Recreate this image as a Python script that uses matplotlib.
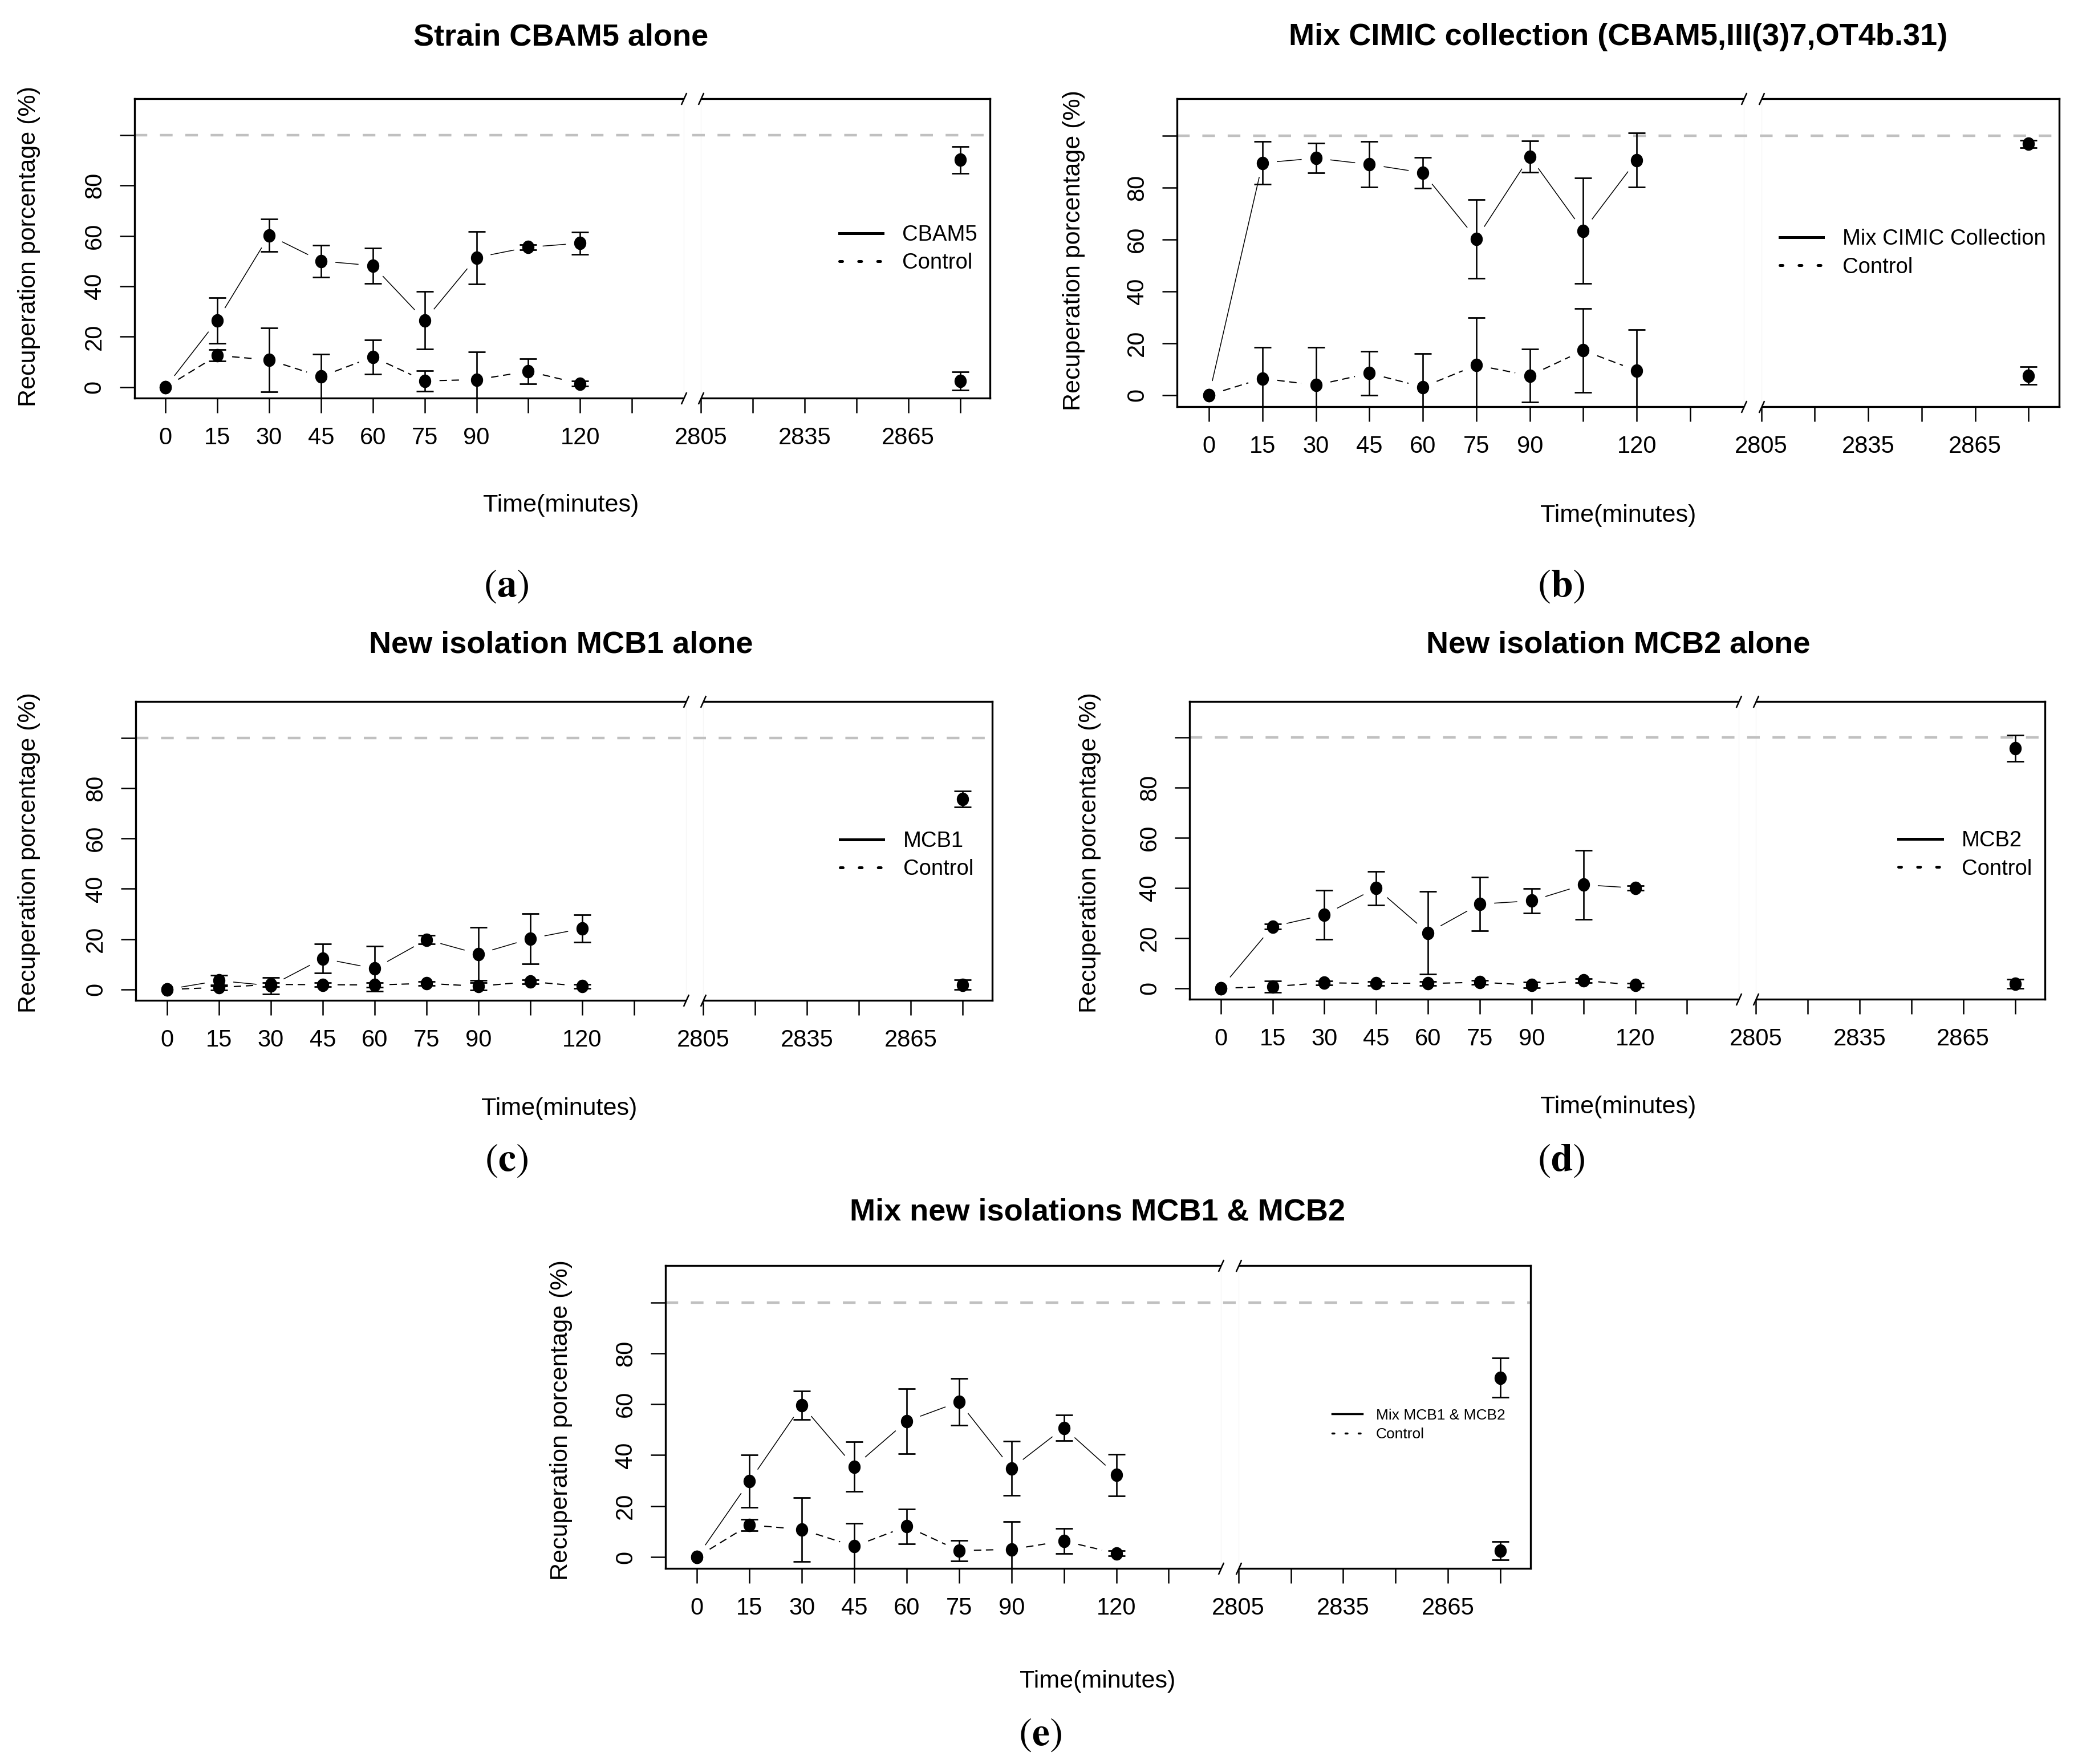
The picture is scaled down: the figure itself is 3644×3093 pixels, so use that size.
import numpy as np
import matplotlib
matplotlib.use('Agg')
import matplotlib.pyplot as plt
from matplotlib.lines import Line2D
from matplotlib.path import Path

plt.rcParams['font.family'] = ['Liberation Sans', 'DejaVu Sans']
plt.rcParams['mathtext.fontset'] = 'stix'
plt.rcParams['lines.scale_dashes'] = False

# ---------------- data ----------------
times = [0, 15, 30, 45, 60, 75, 90, 105, 120, 2880]

cbam5_mean = [0, 26.5, 60.2, 50.0, 48.2, 26.5, 51.4, 55.5, 57.1, 90.1]
cbam5_sd = [0, 9.0, 6.5, 6.3, 7.0, 11.4, 10.4, 1.0, 4.4, 5.3]
ctrl_a_mean = [0, 12.6, 10.8, 4.2, 12.0, 2.5, 3.0, 6.3, 1.4, 2.5]
ctrl_a_sd = [0, 2.2, 12.6, 9.0, 6.8, 4.1, 10.9, 5.0, 1.0, 3.6]

cimic_mean = [0, 89.6, 91.4, 89.0, 85.8, 60.3, 92.0, 63.4, 90.7, 96.9]
cimic_sd = [0, 8.3, 5.7, 8.8, 6.0, 15.2, 6.0, 20.3, 10.5, 1.5]
ctrl_b_mean = [0, 6.4, 3.8, 8.4, 3.1, 11.5, 7.5, 17.2, 9.4, 7.5]
ctrl_b_sd = [0, 12.0, 14.6, 8.5, 12.8, 18.3, 10.2, 16.2, 15.8, 3.5]

mcb1_mean = [0, 3.5, 1.5, 12.3, 8.3, 19.8, 14.1, 20.2, 24.2, 75.6]
mcb1_sd = [0, 2.2, 3.3, 5.8, 8.9, 1.8, 10.6, 10.0, 5.5, 3.2]
ctrl_c_mean = [0, 0.8, 2.0, 1.9, 1.8, 2.4, 1.3, 3.1, 1.3, 1.9]
ctrl_c_sd = [0, 1.0, 0.8, 0.8, 0.8, 0.8, 1.5, 0.8, 0.8, 1.9]

mcb2_mean = [0, 24.6, 29.3, 40.0, 22.1, 33.6, 34.9, 41.3, 40.0, 95.8]
mcb2_sd = [0, 1.0, 9.8, 6.7, 16.5, 10.7, 4.9, 13.7, 1.0, 5.2]
ctrl_d_mean = [0, 0.7, 2.2, 1.9, 1.9, 2.4, 1.3, 3.1, 1.3, 1.8]
ctrl_d_sd = [0, 2.3, 0.8, 0.8, 0.8, 0.8, 1.2, 0.8, 0.8, 1.9]

mix_mean = [0, 29.7, 59.6, 35.5, 53.3, 60.9, 34.8, 50.7, 32.2, 70.4]
mix_sd = [0, 10.3, 5.6, 9.8, 12.7, 9.1, 10.7, 5.1, 8.2, 7.7]
ctrl_e_mean = [0, 12.6, 10.8, 4.2, 12.0, 2.5, 3.0, 6.3, 1.4, 2.5]
ctrl_e_sd = [0, 2.2, 12.6, 9.0, 6.8, 4.1, 10.9, 5.0, 1.0, 3.6]

x_ticks = [0, 15, 30, 45, 60, 75, 90, 105, 120, 135, 2805, 2820, 2835, 2850, 2865, 2880]
x_ticklabels = ['0', '15', '30', '45', '60', '75', '90', '', '120', '',
                '2805', '', '2835', '', '2865', '']
y_ticks = [0, 20, 40, 60, 80, 100]
y_ticklabels = ['0', '20', '40', '60', '80', '']

titles = ['Strain CBAM5 alone',
          'Mix CIMIC collection (CBAM5,III(3)7,OT4b.31)',
          'New isolation MCB1 alone',
          'New isolation MCB2 alone',
          'Mix new isolations MCB1 & MCB2']
series_names = ['CBAM5', 'Mix CIMIC Collection', 'MCB1', 'MCB2', 'Mix MCB1 & MCB2']
panel_tags = ['a', 'b', 'c', 'd', 'e']

# ---------------- broken time axis ----------------
GAP_LO, GAP_HI, GAP_W = 150.0, 2805.0, 0.33


def fwd(t):
    t = np.asarray(t, float)
    lo = GAP_LO / 15.0
    return np.where(t <= GAP_LO, t / 15.0,
                    np.where(t >= GAP_HI, (t - GAP_HI) / 15.0 + lo + GAP_W,
                             lo + (t - GAP_LO) / (GAP_HI - GAP_LO) * GAP_W))


def inv(u):
    u = np.asarray(u, float)
    lo = GAP_LO / 15.0
    hi = lo + GAP_W
    return np.where(u <= lo, u * 15.0,
                    np.where(u >= hi, (u - hi) * 15.0 + GAP_HI,
                             GAP_LO + (u - lo) / GAP_W * (GAP_HI - GAP_LO)))


th = np.linspace(0, 2 * np.pi, 41)
ell = Path(np.column_stack([0.9 * np.cos(th), np.sin(th)]), closed=True)
slash = Path([(-0.45, -1.0), (0.45, 1.0)])

fig = plt.figure(figsize=(36.44, 30.93), dpi=100)

rects = [[0.0647, 0.7742, 0.4116, 0.1699],
         [0.5664, 0.7696, 0.4246, 0.1745],
         [0.0654, 0.4328, 0.4122, 0.1695],
         [0.5725, 0.4335, 0.4115, 0.1688],
         [0.3203, 0.1110, 0.4162, 0.1715]]
title_pos = [(0.2699, 0.9789), (0.7788, 0.9789), (0.2699, 0.6344), (0.7788, 0.6344), (0.5282, 0.3127)]
xlab_pos = [(0.2699, 0.7137), (0.7788, 0.7077), (0.2692, 0.3716), (0.7788, 0.3724), (0.5282, 0.0468)]
ylab_pos = [(0.0141, 0.8603), (0.5167, 0.8580), (0.0141, 0.5166), (0.5244, 0.5166), (0.2699, 0.1949)]
tag_pos = [(0.2436, 0.6677), (0.7513, 0.6677), (0.2436, 0.3421), (0.7513, 0.3421), (0.5006, 0.0166)]
leg_pos = [(0.824, 0.498), (0.683, 0.498), (0.822, 0.486), (0.829, 0.485), (0.771, 0.474)]
leg_fs = [27.5, 27.5, 27.5, 27.5, 19]

means = [cbam5_mean, cimic_mean, mcb1_mean, mcb2_mean, mix_mean]
sds = [cbam5_sd, cimic_sd, mcb1_sd, mcb2_sd, mix_sd]
cmeans = [ctrl_a_mean, ctrl_b_mean, ctrl_c_mean, ctrl_d_mean, ctrl_e_mean]
csds = [ctrl_a_sd, ctrl_b_sd, ctrl_c_sd, ctrl_d_sd, ctrl_e_sd]

GAP_PX = 26.0


def draw_b(ax, x, y, **kw):
    pts = ax.transData.transform(np.column_stack([x, y]))
    invt = ax.transData.inverted()
    for p0, p1 in zip(pts[:-1], pts[1:]):
        d = p1 - p0
        L = np.hypot(d[0], d[1])
        if L <= 2 * GAP_PX + 2:
            continue
        u = d / L
        seg = invt.transform(np.vstack([p0 + u * GAP_PX, p1 - u * GAP_PX]))
        ax.plot(seg[:, 0], seg[:, 1], color='black', **kw)


for i in range(5):
    ax = fig.add_axes(rects[i])
    ax.set_xscale('function', functions=(fwd, inv))
    ax.set_xlim(-9, 2888.6)
    ax.set_ylim(-4.4, 114.4)
    ax.set_xticks(x_ticks)
    ax.set_xticklabels(x_ticklabels)
    ax.set_yticks(y_ticks)
    ax.set_yticklabels(y_ticklabels, rotation=90, va='center')
    ax.xaxis.set_minor_locator(matplotlib.ticker.NullLocator())
    ax.tick_params(axis='both', direction='out', length=19, width=1.8,
                   labelsize=30, pad=17)
    for sp in ax.spines.values():
        sp.set_linewidth(2.4)

    ax.axhline(100, color='#c0c0c0', lw=3.2, dashes=(16, 16), zorder=1)
    ax.axvline(GAP_LO, color='#f6f6f6', lw=1.0, zorder=0.5)
    ax.axvline(GAP_HI, color='#f6f6f6', lw=1.0, zorder=0.5)

    t = np.array(times, float)
    m = np.array(means[i], float)
    s = np.array(sds[i], float)
    cm = np.array(cmeans[i], float)
    cs = np.array(csds[i], float)

    draw_b(ax, t[:-1], m[:-1], lw=1.1, zorder=3)
    draw_b(ax, t[:-1], cm[:-1], lw=1.5, dashes=(9.4, 5.8), zorder=3)

    for mm, ss in ((m, s), (cm, cs)):
        k = ss > 0
        ax.errorbar(t[k], mm[k], yerr=ss[k], fmt='none', ecolor='black',
                    elinewidth=1.9, capsize=10.8, capthick=2.0, zorder=4)
        ax.plot(t, mm, ls='none', marker=ell, markersize=16, color='black',
                zorder=5)

    # axis break marks
    xt = ax.get_xaxis_transform()
    for yy in (0, 1):
        ax.plot([GAP_LO, GAP_HI], [yy, yy], color='white', lw=5, transform=xt,
                clip_on=False, zorder=9, solid_capstyle='butt')
        ax.plot([GAP_LO, GAP_HI], [yy, yy], ls='none', marker=slash,
                markersize=15, markeredgewidth=1.8, color='black',
                transform=xt, clip_on=False, zorder=10)

    fs = leg_fs[i]
    sc = fs / 27.5
    handles = [Line2D([], [], color='black', lw=3.6 * sc),
               Line2D([], [], color='black', lw=3.6 * sc,
                      dashes=(3.6 * sc, 20.4 * sc), dash_capstyle='round')]
    ax.legend(handles, [series_names[i], 'Control'], loc='center left',
              bbox_to_anchor=leg_pos[i], frameon=False,
              fontsize=fs, handlelength=2.0,
              handletextpad=0.9, labelspacing=0.35, borderpad=0,
              borderaxespad=0)

    fig.text(*title_pos[i], titles[i], fontsize=39, fontweight='bold',
             ha='center', va='center')
    fig.text(*xlab_pos[i], 'Time(minutes)', fontsize=31, ha='center', va='center')
    fig.text(*ylab_pos[i], 'Recuperation porcentage (%)', fontsize=31,
             ha='center', va='center', rotation=90)
    fig.text(*tag_pos[i], r'$(\mathbf{' + panel_tags[i] + r'})$', fontsize=50,
             ha='center', va='center')

fig.savefig('out.png', dpi=100, facecolor='white')
